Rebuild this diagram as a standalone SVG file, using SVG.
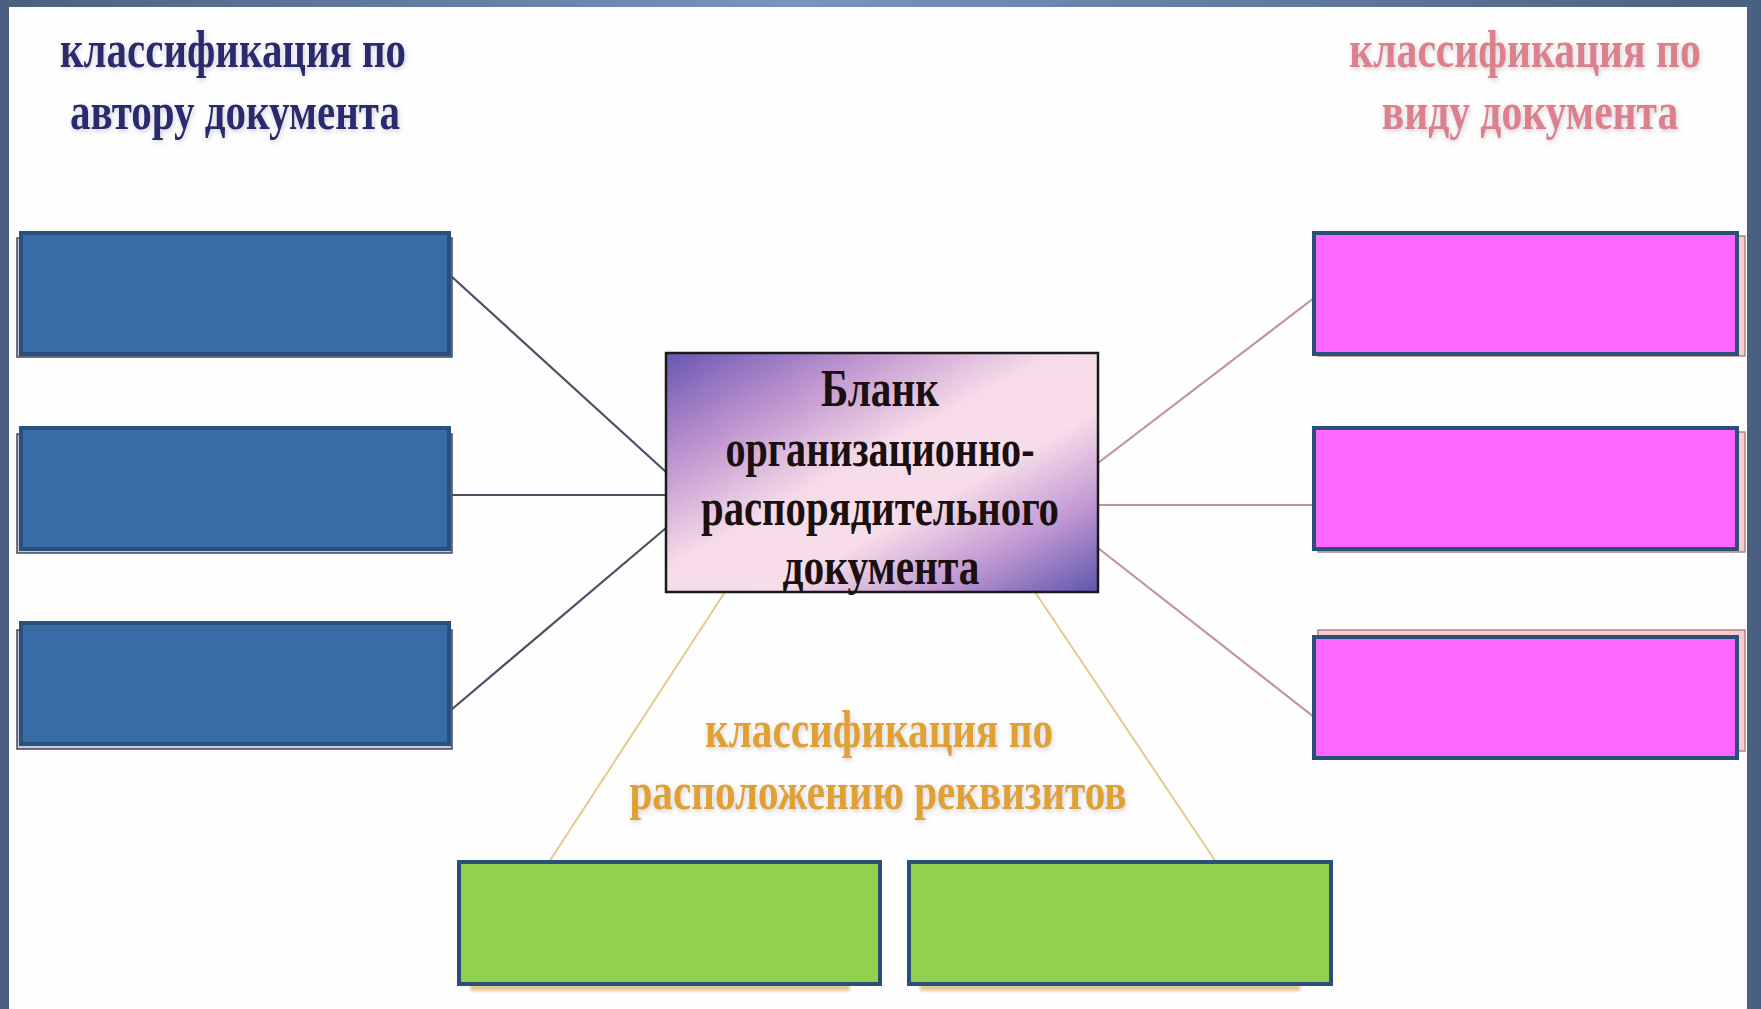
<svg xmlns="http://www.w3.org/2000/svg" width="1761" height="1009" viewBox="0 0 1761 1009">
  <defs>
    <linearGradient id="topbar" x1="0" y1="0" x2="1" y2="0">
      <stop offset="0" stop-color="#4a6080"/>
      <stop offset="0.45" stop-color="#7895bd"/>
      <stop offset="1" stop-color="#4a6080"/>
    </linearGradient>
    <linearGradient id="centerFill" x1="0" y1="0" x2="1" y2="1">
      <stop offset="0" stop-color="#6a56b2"/>
      <stop offset="0.24" stop-color="#c096d0"/>
      <stop offset="0.45" stop-color="#f6dbe8"/>
      <stop offset="0.62" stop-color="#f7dde9"/>
      <stop offset="0.8" stop-color="#c39ad4"/>
      <stop offset="1" stop-color="#5e56ae"/>
    </linearGradient>
    <filter id="glow" filterUnits="userSpaceOnUse" x="0" y="0" width="1761" height="1009">
      <feGaussianBlur in="SourceAlpha" stdDeviation="2.5" result="b"/>
      <feOffset dx="1" dy="2" result="o"/>
      <feFlood flood-color="#a0a0b0" flood-opacity="0.5"/>
      <feComposite in2="o" operator="in" result="s"/>
      <feMerge><feMergeNode in="s"/><feMergeNode in="SourceGraphic"/></feMerge>
    </filter>
    <filter id="soft" x="-5%" y="-50%" width="110%" height="200%">
      <feGaussianBlur stdDeviation="1.5"/>
    </filter>
  </defs>
  <style>
    .t { font-family: "Liberation Serif", "DejaVu Serif", serif; font-weight: bold; font-size: 52px; text-anchor: middle; }
    .tl { fill: #2b2a6e; }
    .tr { fill: #dc808b; }
    .tb { fill: #e0a030; }
    .tc { fill: #1a1010; }
    .blue { fill: #386ca5; stroke: #28527d; stroke-width: 4; }
    .pink { fill: #ff66ff; stroke: #2a5078; stroke-width: 4; }
    .green { fill: #92d050; stroke: #2a5078; stroke-width: 4; }
    .bshadow { fill: #c8c8dc; stroke: #454558; stroke-width: 1.5; }
    .pshadow { fill: #f6cccc; stroke: #b08484; stroke-width: 1.5; }
    .cl { stroke: #4e4e64; stroke-width: 2.2; fill: none; }
    .cr { stroke: #c2939a; stroke-width: 2.2; fill: none; }
    .cb { stroke: #e4cc86; stroke-width: 2; fill: none; }
  </style>

  <!-- background and frame -->
  <rect x="0" y="0" width="1761" height="1009" fill="#fefefe"/>
  <rect x="0" y="0" width="1761" height="7" fill="url(#topbar)"/>
  <rect x="0" y="0" width="9" height="1009" fill="#4a6080"/>
  <rect x="1747" y="0" width="14" height="1009" fill="#4a6080"/>

  <!-- titles -->
  <g id="title-author" class="t tl" filter="url(#glow)">
    <text x="233" y="67" textLength="346" lengthAdjust="spacingAndGlyphs">классификация по</text>
    <text x="235" y="129" textLength="330" lengthAdjust="spacingAndGlyphs">автору документа</text>
  </g>
  <g id="title-type" class="t tr" filter="url(#glow)">
    <text transform="translate(1525 67) scale(0.8 1)" x="0" y="0">классификация по</text>
    <text transform="translate(1530 129) scale(0.8 1)" x="0" y="0">виду документа</text>
  </g>
  <g id="title-layout" class="t tb" filter="url(#glow)">
    <text x="879" y="747" textLength="348" lengthAdjust="spacingAndGlyphs">классификация по</text>
    <text x="878" y="809" textLength="497" lengthAdjust="spacingAndGlyphs">расположению реквизитов</text>
  </g>

  <!-- connectors -->
  <g id="connectors">
    <line class="cl" x1="451" y1="276" x2="666" y2="472"/>
    <line class="cl" x1="451" y1="495" x2="666" y2="495"/>
    <line class="cl" x1="451" y1="710" x2="666" y2="528"/>
    <line class="cr" x1="1098" y1="463" x2="1314" y2="298"/>
    <line class="cr" x1="1098" y1="505" x2="1314" y2="505"/>
    <line class="cr" x1="1098" y1="548" x2="1314" y2="717"/>
    <line class="cb" x1="725" y1="592" x2="549" y2="862"/>
    <line class="cb" x1="1035" y1="592" x2="1216" y2="862"/>
  </g>

  <!-- left (blue) nodes -->
  <g id="author-1">
    <rect class="bshadow" x="17" y="238" width="435" height="119"/>
    <rect class="blue" x="21" y="233" width="428" height="121"/>
  </g>
  <g id="author-2">
    <rect class="bshadow" x="17" y="434" width="435" height="119"/>
    <rect class="blue" x="21" y="428" width="428" height="121"/>
  </g>
  <g id="author-3">
    <rect class="bshadow" x="17" y="630" width="435" height="119"/>
    <rect class="blue" x="21" y="623" width="428" height="121"/>
  </g>

  <!-- right (pink) nodes -->
  <g id="type-1">
    <rect class="pshadow" x="1318" y="236" width="427" height="120"/>
    <rect class="pink" x="1314" y="233" width="423" height="121"/>
  </g>
  <g id="type-2">
    <rect class="pshadow" x="1318" y="432" width="427" height="120"/>
    <rect class="pink" x="1314" y="428" width="423" height="121"/>
  </g>
  <g id="type-3">
    <rect class="pshadow" x="1318" y="630" width="427" height="121"/>
    <rect class="pink" x="1314" y="637" width="423" height="121"/>
  </g>

  <!-- bottom (green) nodes -->
  <g id="layout-1">
    <rect x="470" y="982" width="380" height="9" fill="#e6c78e" filter="url(#soft)"/>
    <rect class="green" x="459" y="862" width="421" height="122"/>
  </g>
  <g id="layout-2">
    <rect x="920" y="982" width="380" height="9" fill="#e6c78e" filter="url(#soft)"/>
    <rect class="green" x="909" y="862" width="422" height="122"/>
  </g>

  <!-- central node -->
  <g id="center">
    <rect x="666" y="353" width="432" height="239" fill="url(#centerFill)" stroke="#1a1a1a" stroke-width="2.5"/>
    <g class="t tc">
      <text x="880" y="406" textLength="118" lengthAdjust="spacingAndGlyphs">Бланк</text>
      <text x="880" y="466" textLength="309" lengthAdjust="spacingAndGlyphs">организационно-</text>
      <text x="880" y="525" textLength="358" lengthAdjust="spacingAndGlyphs">распорядительного</text>
      <text x="881" y="584" textLength="197" lengthAdjust="spacingAndGlyphs">документа</text>
    </g>
  </g>
</svg>
